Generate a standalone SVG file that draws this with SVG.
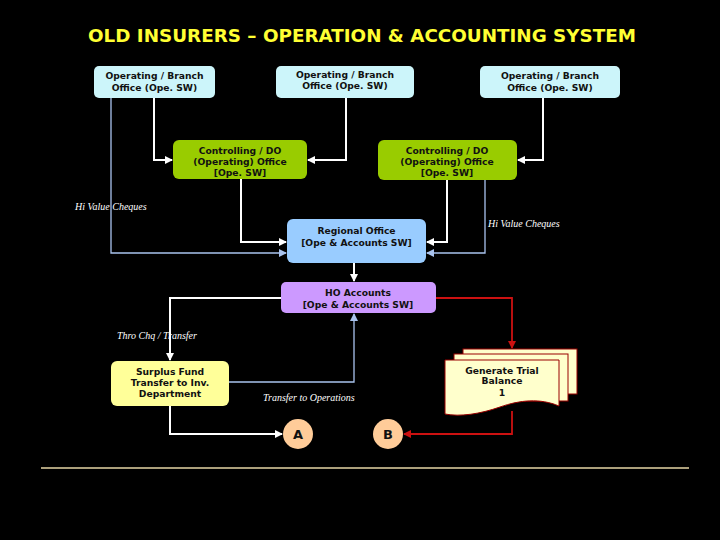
<svg xmlns="http://www.w3.org/2000/svg" width="720" height="540" viewBox="0 0 720 540">
<style>
.title{font-family:"DejaVu Sans",Verdana,sans-serif;font-weight:bold;font-size:17.5px;fill:#FFFF33}
.bt{font-family:"DejaVu Sans",Verdana,sans-serif;font-weight:bold;font-size:9.2px;fill:#111;text-anchor:middle}
.lbl{font-family:"Liberation Serif","Times New Roman",serif;font-style:italic;font-size:10px;fill:#fff}
.cl{font-family:"DejaVu Sans",Verdana,sans-serif;font-weight:bold;font-size:13px;fill:#111;text-anchor:middle}
.w{fill:none;stroke:#fff;stroke-width:2}
.b{fill:none;stroke:#A9C3EE;stroke-width:1.3}
.r{fill:none;stroke:#CC1111;stroke-width:1.8}
</style>
<defs>
<marker id="aw" markerWidth="8" markerHeight="8" refX="7" refY="4" orient="auto" markerUnits="userSpaceOnUse"><path d="M0,0 L8,4 L0,8 Z" fill="#fff"/></marker>
<marker id="ab" markerWidth="8" markerHeight="8" refX="7" refY="4" orient="auto" markerUnits="userSpaceOnUse"><path d="M0,0 L8,4 L0,8 Z" fill="#A9C3EE"/></marker>
<marker id="ar" markerWidth="8" markerHeight="8" refX="7" refY="4" orient="auto" markerUnits="userSpaceOnUse"><path d="M0,0 L8,4 L0,8 Z" fill="#CC1111"/></marker>
</defs>
<rect width="720" height="540" fill="#000"/>
<text class="title" x="88" y="42" textLength="548" lengthAdjust="spacingAndGlyphs">OLD INSURERS – OPERATION &amp; ACCOUNTING SYSTEM</text>

<g id="connectors">
<polyline class="b" points="111,98 111,253 286,253" marker-end="url(#ab)"/>
<polyline class="w" points="154,98 154,160 172,160" marker-end="url(#aw)"/>
<polyline class="w" points="346,98 346,160 308,160" marker-end="url(#aw)"/>
<polyline class="w" points="543,98 543,160 518,160" marker-end="url(#aw)"/>
<polyline class="w" points="241,179 241,242 286,242" marker-end="url(#aw)"/>
<polyline class="w" points="447,180 447,242 427,242" marker-end="url(#aw)"/>
<polyline class="b" points="485,180 485,253 427,253" marker-end="url(#ab)"/>
<polyline class="w" points="354,263 354,281" marker-end="url(#aw)"/>
<polyline class="w" points="281,298 170,298 170,360" marker-end="url(#aw)"/>
<polyline class="r" points="436,298 512,298 512,348" marker-end="url(#ar)"/>
<polyline class="b" points="229,382 354,382 354,314" marker-end="url(#ab)"/>
<polyline class="w" points="170,406 170,434 282,434" marker-end="url(#aw)"/>
<polyline class="r" points="512,411 512,434 404,434" marker-end="url(#ar)"/>
</g>

<g id="ob1"><rect x="94" y="66" width="121" height="32" rx="5" fill="#CCF5FA"/>
<text class="bt" x="154.5" y="79">Operating / Branch</text><text class="bt" x="154.5" y="91">Office (Ope. SW)</text></g>
<g id="ob2"><rect x="276" y="66" width="138" height="32" rx="5" fill="#CCF5FA"/>
<text class="bt" x="345" y="78">Operating / Branch</text><text class="bt" x="345" y="89">Office (Ope. SW)</text></g>
<g id="ob3"><rect x="480" y="66" width="140" height="32" rx="5" fill="#CCF5FA"/>
<text class="bt" x="550" y="79">Operating / Branch</text><text class="bt" x="550" y="91">Office (Ope. SW)</text></g>

<g id="do1"><rect x="173" y="140" width="134" height="39" rx="6" fill="#99CC00"/>
<text class="bt" x="240" y="154">Controlling / DO</text><text class="bt" x="240" y="165">(Operating) Office</text><text class="bt" x="240" y="176">[Ope. SW]</text></g>
<g id="do2"><rect x="378" y="140" width="139" height="40" rx="6" fill="#99CC00"/>
<text class="bt" x="447" y="154">Controlling / DO</text><text class="bt" x="447" y="165">(Operating) Office</text><text class="bt" x="447" y="176">[Ope. SW]</text></g>

<g id="ro"><rect x="287" y="219" width="139" height="44" rx="6" fill="#99CCFF"/>
<text class="bt" x="356.5" y="234">Regional Office</text><text class="bt" x="356.5" y="246">[Ope &amp; Accounts SW]</text></g>

<g id="ho"><rect x="281" y="282" width="155" height="31" rx="5" fill="#CC99FF"/>
<text class="bt" x="358" y="296">HO Accounts</text><text class="bt" x="358" y="308">[Ope &amp; Accounts SW]</text></g>

<g id="sf"><rect x="111" y="361" width="118" height="45" rx="6" fill="#FFFF99"/>
<text class="bt" x="170" y="375">Surplus Fund</text><text class="bt" x="170" y="386">Transfer to Inv.</text><text class="bt" x="170" y="397">Department</text></g>

<g id="tb">
<rect x="463" y="349" width="114" height="45" fill="#FFFFCC" stroke="#990000" stroke-width="1"/>
<rect x="454" y="354" width="114" height="47" fill="#FFFFCC" stroke="#990000" stroke-width="1"/>
<path d="M445,360 H559 V406 C540,398 520,400 500,407 C480,414 460,417 445,414 Z" fill="#FFFFCC" stroke="#990000" stroke-width="1"/>
<text class="bt" x="502" y="374">Generate Trial</text><text class="bt" x="502" y="384">Balance</text><text class="bt" x="502" y="396">1</text>
</g>

<g id="ca"><circle cx="298" cy="434" r="15" fill="#FFCC99"/><text class="cl" x="298" y="439">A</text></g>
<g id="cb"><circle cx="388" cy="434" r="15" fill="#FFCC99"/><text class="cl" x="388" y="439">B</text></g>

<g id="labels">
<text class="lbl" x="75" y="210">Hi Value Cheques</text>
<text class="lbl" x="488" y="227">Hi Value Cheques</text>
<text class="lbl" x="117" y="339">Thro Chq / Transfer</text>
<text class="lbl" x="263" y="401">Transfer to Operations</text>
</g>
<line x1="41" y1="468" x2="689" y2="468" stroke="#E6D6A6" stroke-width="1.5"/>
</svg>
